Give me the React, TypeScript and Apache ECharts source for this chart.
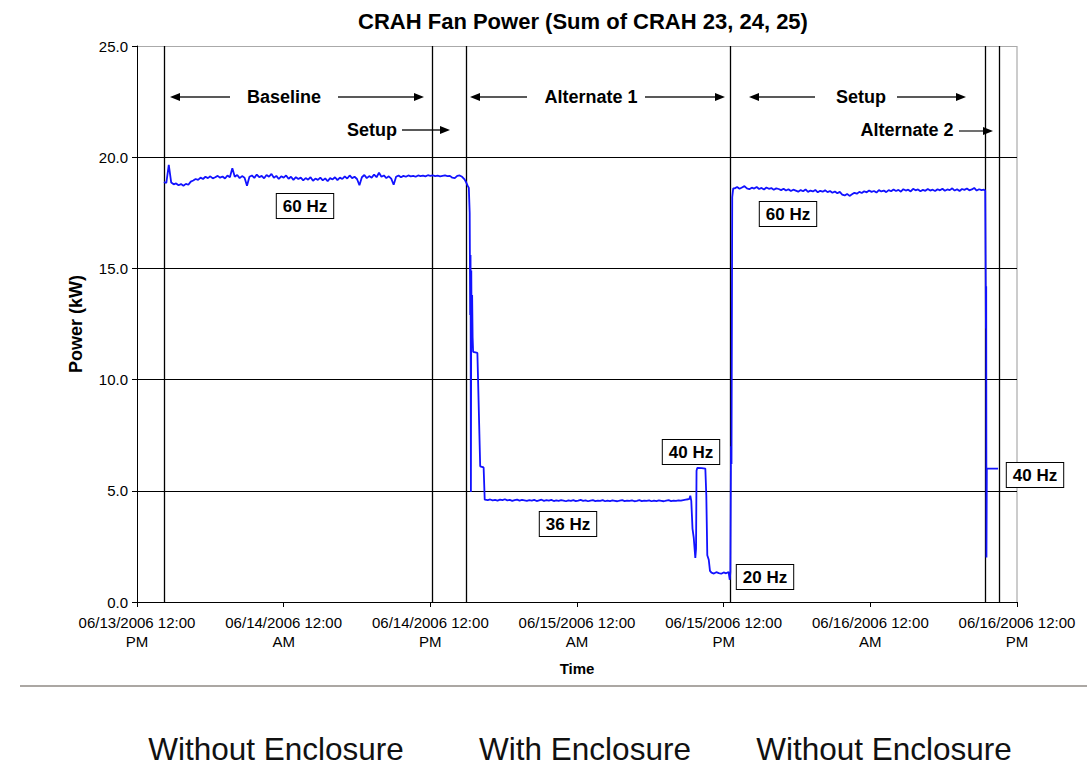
import React, { useEffect, useRef } from "react";
import * as echarts from "echarts";

// ---- data ----
const START_MS = Date.UTC(2006, 5, 13, 12); // 06/13/2006 12:00 PM
const HOUR_MS = 3600000;
const SAMPLE_H = 0.2; // sampling interval of the plateau readings (hours)

const yTicks = [0, 5, 10, 15, 20, 25];

// Baseline, 60 Hz (readings every 0.2 h from 2.2 h)
const baselineStartH = 2.2;
const baselineKW = [
  18.88, 18.84, 19.65, 18.86, 18.78, 18.82, 18.74, 18.79, 18.72, 18.8,
  18.76, 18.9, 18.95, 19.02, 18.98, 19.08, 19.02, 19.12, 19.06, 19.14,
  19.05, 19.1, 19.16, 19.08, 19.13, 19.04, 19.18, 19.1, 19.5, 19.12,
  19.2, 19.06, 19.15, 19.08, 18.72, 19.12, 19.18, 19.07, 19.22, 19.1,
  19.16, 19.05, 19.2, 19.12, 19.25, 19.08, 19.16, 19.02, 19.14, 19.08,
  19.18, 19.03, 19.12, 18.98, 19.1, 19.02, 19.08, 18.96, 19.06, 18.99,
  19.1, 18.94, 19.04, 18.98, 19.08, 18.96, 19.05, 18.92, 19.06, 19.0,
  19.1, 18.97, 19.08, 19.02, 19.14, 19.04, 19.18, 19.06, 19.12, 19.02,
  18.74, 19.1, 19.2, 19.06, 19.15, 19.08, 19.22, 19.1, 19.3, 19.12,
  19.18, 19.06, 19.14, 19.04, 18.76, 19.12, 19.18, 19.1, 19.16, 19.12,
  19.18, 19.14, 19.16, 19.12, 19.18, 19.15, 19.17, 19.14, 19.19, 19.16,
  19.18, 19.15, 19.17, 19.14, 19.16, 19.18, 19.15, 19.16, 19.08, 19.06,
  19.16, 19.18, 19.12, 19.0,
];

// Ramp down to 36 Hz [hour, kW]
const rampDownAlt1: [number, number][] = [
  [26.95, 18.85], [27.05, 18.72], [27.15, 18.62], [27.22, 17.5], [27.26, 12.9],
  [27.29, 15.6], [27.32, 4.95], [27.35, 14.9], [27.38, 12.0], [27.42, 13.8],
  [27.46, 11.9], [27.5, 11.25], [27.85, 11.2], [27.9, 10.1], [28.08, 6.1],
  [28.36, 6.05], [28.45, 4.6],
];

// Alternate 1, 36 Hz (every 0.2 h from 28.5 h)
const alt1StartH = 28.5;
const alt1KW = [
  4.6, 4.58, 4.61, 4.57, 4.59, 4.56, 4.6, 4.58, 4.62, 4.57,
  4.59, 4.55, 4.58, 4.6, 4.56, 4.59, 4.57, 4.55, 4.58, 4.56,
  4.59, 4.54, 4.57, 4.6, 4.55, 4.58, 4.56, 4.59, 4.54, 4.57,
  4.55, 4.58, 4.56, 4.53, 4.57, 4.55, 4.58, 4.54, 4.56, 4.59,
  4.55, 4.57, 4.53, 4.56, 4.58, 4.54, 4.56, 4.55, 4.58, 4.53,
  4.56, 4.54, 4.57, 4.55, 4.53, 4.56, 4.58, 4.54, 4.56, 4.55,
  4.57, 4.53, 4.55, 4.58, 4.54, 4.56, 4.55, 4.57, 4.53, 4.56,
  4.54, 4.57, 4.55, 4.53, 4.56, 4.58, 4.54, 4.56, 4.55, 4.57,
  4.56, 4.58, 4.6, 4.62,
];

// 40 Hz test and drop to 20 Hz [hour, kW]
const test40: [number, number][] = [
  [45.2, 4.64], [45.27, 4.78], [45.35, 4.55], [45.45, 3.3], [45.55, 2.9],
  [45.68, 1.98], [45.74, 2.4], [45.78, 5.9], [45.84, 6.03], [46.2, 6.02],
  [46.5, 6.0], [46.58, 4.8], [46.66, 2.1], [46.78, 1.9], [46.88, 1.4],
];

// 20 Hz (every 0.2 h from 47.0 h)
const hz20StartH = 47.0;
const hz20KW = [1.32, 1.28, 1.34, 1.3, 1.27, 1.33, 1.29, 1.35];

// Ramp back up to 60 Hz [hour, kW]
const rampUp: [number, number][] = [
  [48.5, 1.0], [48.55, 1.35], [48.6, 7.0], [48.64, 6.2], [48.7, 18.2], [48.78, 18.6],
];

// Setup, 60 Hz (every 0.2 h from 48.9 h)
const setup2StartH = 48.9;
const setup2KW = [
  18.6, 18.66, 18.58, 18.64, 18.7, 18.6, 18.56, 18.63, 18.59, 18.66, 18.57, 18.62, 18.55, 18.64, 18.58, 18.61, 18.54, 18.6, 18.57, 18.52, 18.58,
  18.5, 18.56, 18.48, 18.54, 18.5, 18.45, 18.52, 18.47, 18.55, 18.44, 18.5, 18.46, 18.53, 18.42, 18.49, 18.45, 18.51, 18.43, 18.48, 18.4, 18.46,
  18.38, 18.44, 18.32, 18.28, 18.35, 18.26, 18.33, 18.4, 18.36, 18.44, 18.39, 18.47, 18.42, 18.5, 18.44, 18.48, 18.41, 18.52, 18.46, 18.5, 18.43,
  18.52, 18.47, 18.55, 18.48, 18.53, 18.45, 18.56, 18.5, 18.54, 18.46, 18.58, 18.51, 18.55, 18.47, 18.53, 18.49, 18.57, 18.5, 18.54, 18.48, 18.56,
  18.51, 18.58, 18.49, 18.55, 18.52, 18.6, 18.5, 18.56, 18.48, 18.57, 18.53, 18.59, 18.51, 18.55, 18.62, 18.5, 18.56, 18.52, 18.54,
];

// Alternate 2, 40 Hz [hour, kW]
const alt2: [number, number][] = [
  [69.4, 18.5], [69.44, 14.6], [69.46, 12.3], [69.48, 14.2], [69.5, 2.0],
  [69.53, 6.0], [70.45, 6.0],
];

// Event lines (hours after start)
const eventHours = [2.23, 24.16, 26.92, 48.52, 69.44, 70.55];

// ---- helpers ----
const toMs = (h: number) => START_MS + h * HOUR_MS;
const sampled = (startH: number, vals: number[]) =>
  vals.map((v, i) => [toMs(startH + i * SAMPLE_H), v]);
const pairs = (arr: [number, number][]) => arr.map(([h, v]) => [toMs(h), v]);

const FONT = "'Liberation Sans', Arial, Helvetica, sans-serif";

function arrow(x1: number, x2: number, y: number) {
  const dir = x2 > x1 ? 1 : -1;
  return [
    {
      type: "line",
      shape: { x1, y1: y, x2: x2 - dir * 8, y2: y },
      style: { stroke: "#222", lineWidth: 1.3 },
    },
    {
      type: "polygon",
      shape: { points: [[x2, y], [x2 - dir * 10, y - 4], [x2 - dir * 10, y + 4]] },
      style: { fill: "#000" },
    },
  ];
}

function label(text: string, x: number, y: number, boxed = false) {
  return {
    type: "text",
    x,
    y,
    style: {
      text,
      font: `bold ${boxed ? 17 : 18}px ${FONT}`,
      fill: "#000",
      align: "center",
      verticalAlign: "middle",
      ...(boxed
        ? { backgroundColor: "#fff", borderColor: "#000", borderWidth: 1, padding: [4, 6, 3, 6] }
        : {}),
    },
  };
}

export default function App() {
  const ref = useRef<HTMLDivElement>(null);
  useEffect(() => {
    if (!ref.current) return;
    const chart = echarts.init(ref.current, undefined, { renderer: "svg" });
    const data = [
      ...sampled(baselineStartH, baselineKW),
      ...pairs(rampDownAlt1),
      ...sampled(alt1StartH, alt1KW),
      ...pairs(test40),
      ...sampled(hz20StartH, hz20KW),
      ...pairs(rampUp),
      ...sampled(setup2StartH, setup2KW),
      ...pairs(alt2),
    ];
    const pad = (n: number) => (n < 10 ? "0" + n : "" + n);
    chart.setOption({
      animation: false,
      backgroundColor: "#fff",
      grid: { left: 137, right: 70, top: 46, bottom: 164 },
      xAxis: {
        type: "value",
        min: START_MS,
        max: START_MS + 72 * HOUR_MS,
        interval: 12 * HOUR_MS,
        name: "Time",
        nameLocation: "middle",
        nameGap: 59,
        nameTextStyle: { fontFamily: FONT, fontWeight: "bold", fontSize: 15, color: "#000" },
        axisLine: { lineStyle: { color: "#000", width: 1 } },
        axisTick: { show: true, length: 5, lineStyle: { color: "#000" } },
        splitLine: { show: false },
        axisLabel: {
          fontFamily: FONT,
          fontSize: 15,
          color: "#000",
          lineHeight: 19,
          margin: 11,
          formatter: (v: number) => {
            const d = new Date(v);
            const s = `${pad(d.getUTCMonth() + 1)}/${pad(d.getUTCDate())}/${d.getUTCFullYear()} 12:00`;
            return s + "\n" + (d.getUTCHours() < 12 ? "AM" : "PM");
          },
        },
      },
      yAxis: {
        type: "value",
        min: yTicks[0],
        max: yTicks[yTicks.length - 1],
        interval: 5,
        name: "Power (kW)",
        nameLocation: "middle",
        nameGap: 52,
        nameTextStyle: { fontFamily: FONT, fontWeight: "bold", fontSize: 18, color: "#000" },
        axisLine: { show: true, lineStyle: { color: "#000", width: 1 } },
        axisTick: { show: true, length: 5, lineStyle: { color: "#000" } },
        axisLabel: {
          fontFamily: FONT,
          fontSize: 15,
          color: "#000",
          margin: 9,
          formatter: (v: number) => v.toFixed(1),
        },
        splitLine: {
          show: true,
          lineStyle: { color: ["#000", "#000", "#000", "#000", "#000", "#aaa"], width: 1.2 },
        },
      },
      series: [
        {
          type: "line",
          data,
          showSymbol: false,
          symbol: "none",
          lineStyle: { color: "#1212ff", width: 1.8 },
          z: 3,
          markLine: {
            silent: true,
            symbol: ["none", "none"],
            label: { show: false },
            lineStyle: { color: "#000", width: 1.3, type: "solid" },
            data: eventHours.map((h) => ({ xAxis: toMs(h) })),
            z: 2,
          },
        },
      ],
      graphic: [
        {
          type: "text",
          x: 583,
          y: 21,
          style: {
            text: "CRAH Fan Power (Sum of CRAH 23, 24, 25)",
            font: `bold 22px ${FONT}`,
            fill: "#000",
            align: "center",
            verticalAlign: "middle",
          },
        },
        {
          type: "line",
          shape: { x1: 1017, y1: 46, x2: 1017, y2: 602 },
          style: { stroke: "#aaa", lineWidth: 1.2 },
        },
        // phase annotations
        ...arrow(230, 170, 97),
        label("Baseline", 284, 97),
        ...arrow(338, 424, 97),
        label("Setup", 372, 130),
        ...arrow(402, 450, 130),
        ...arrow(527, 470, 97),
        label("Alternate 1", 591, 97),
        ...arrow(645, 725, 97),
        ...arrow(815, 749, 97),
        label("Setup", 861, 97),
        ...arrow(897, 966, 97),
        label("Alternate 2", 907, 130),
        ...arrow(959, 993, 131),
        // frequency boxes
        label("60 Hz", 305, 206, true),
        label("60 Hz", 788, 214, true),
        label("36 Hz", 568, 524, true),
        label("40 Hz", 691, 452, true),
        label("20 Hz", 765, 577, true),
        label("40 Hz", 1035, 475, true),
        // bottom separator and captions
        {
          type: "line",
          shape: { x1: 20, y1: 686, x2: 1087, y2: 686 },
          style: { stroke: "#8f8a85", lineWidth: 1.5 },
        },
        ...[
          ["Without Enclosure", 276],
          ["With Enclosure", 585],
          ["Without Enclosure", 884],
        ].map(([t, x]) => ({
          type: "text",
          x: x as number,
          y: 749,
          style: {
            text: t as string,
            font: `31.5px ${FONT}`,
            fill: "#111",
            align: "center",
            verticalAlign: "middle",
          },
        })),
      ],
    });
    return () => chart.dispose();
  }, []);
  return (
    <div
      ref={ref}
      style={{ position: "fixed", left: 0, top: 0, width: 1087, height: 766, background: "#fff" }}
    />
  );
}
